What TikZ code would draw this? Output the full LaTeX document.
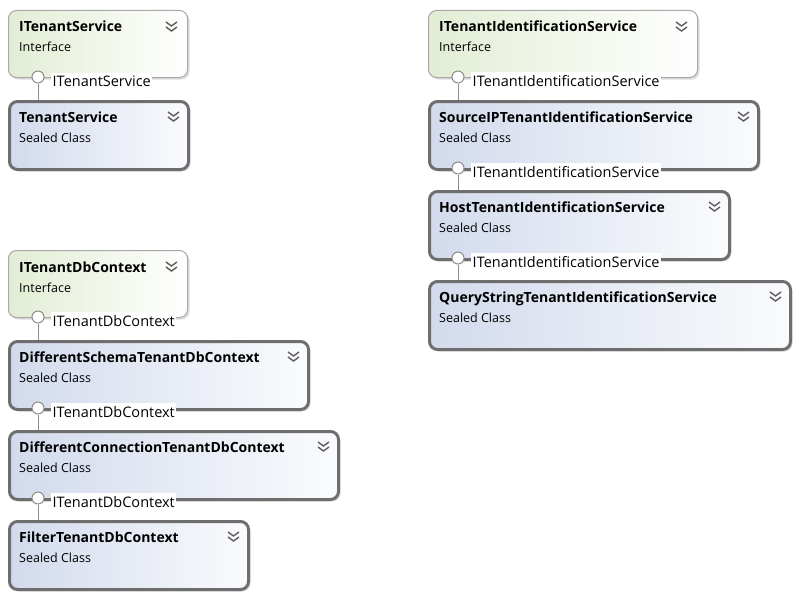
\documentclass[tikz,border=0pt]{standalone}
\usepackage{fontspec}
\setmainfont{Open Sans}
\usetikzlibrary{shadows}
\definecolor{ifborder}{HTML}{A8A8A8}
\definecolor{ifleft}{HTML}{E2EDD4}
\definecolor{clsborder}{HTML}{6E6E6E}
\definecolor{clsleft}{HTML}{D2DAEC}
\definecolor{clsright}{HTML}{FAFBFD}
\definecolor{lolgray}{HTML}{8C8C8C}
\definecolor{chevgray}{HTML}{5E5E5E}
\tikzset{
  boxshadow/.style={drop shadow={shadow xshift=2pt, shadow yshift=-2pt, fill=black!30, opacity=0.45}},
  iface/.style={draw=ifborder, line width=1pt, rounded corners=8pt, left color=ifleft, right color=white, boxshadow, inner sep=0pt},
  cls/.style={draw=clsborder, line width=3pt, rounded corners=8pt, left color=clsleft, right color=clsright, boxshadow, inner sep=0pt},
  ttl/.style={anchor=base west, inner sep=0pt, font=\bfseries\fontsize{14}{16}\selectfont},
  sub/.style={anchor=base west, inner sep=0pt, font=\fontsize{12.5}{14}\selectfont},
  lol/.style={circle, draw=lolgray, fill=white, line width=1pt, minimum size=12pt, inner sep=0pt},
  lbl/.style={anchor=base west, fill=white, inner xsep=1.5pt, inner ysep=2.5pt, font=\fontsize{14.5}{16}\selectfont},
  conn/.style={draw=lolgray, line width=1pt},
  chev/.style={draw=chevgray, line width=1.4pt},
}
\newcommand\umlbox[8]{%
  \node[#1, anchor=north west, minimum width={(#5-#3)*1pt}, minimum height={(#6-#4)*1pt}] (#2) at (#3,#4) {};
  \node[ttl] (#2-t) at ([xshift=11pt,yshift=-22pt]#2.north west) {#7};
  \node[sub] (#2-s) at ([xshift=11pt,yshift=-42pt]#2.north west) {#8};
  \draw[chev] ([xshift=-22pt,yshift=-12pt]#2.north east) -- ++(5.5,4) -- ++(5.5,-4);
  \draw[chev] ([xshift=-22pt,yshift=-17pt]#2.north east) -- ++(5.5,4) -- ++(5.5,-4);
}
\begin{document}
\begin{tikzpicture}[x=1pt,y=-1pt]
\useasboundingbox (0,0) rectangle (799,602);
% left top
\umlbox{iface}{isvc}{8}{10}{187}{77}{ITenantService}{Interface}
\umlbox{cls}{tsvc}{8}{100}{187}{168}{TenantService}{Sealed Class}
% left bottom
\umlbox{iface}{idb}{8}{250}{187}{317}{ITenantDbContext}{Interface}
\umlbox{cls}{dsdb}{8}{340}{307}{408}{DifferentSchemaTenantDbContext}{Sealed Class}
\umlbox{cls}{dcdb}{8}{430}{337}{498}{DifferentConnectionTenantDbContext}{Sealed Class}
\umlbox{cls}{fdb}{8}{520}{247}{588}{FilterTenantDbContext}{Sealed Class}
% right
\umlbox{iface}{iid}{428}{10}{697}{77}{ITenantIdentificationService}{Interface}
\umlbox{cls}{sip}{428}{100}{757}{168}{SourceIPTenantIdentificationService}{Sealed Class}
\umlbox{cls}{hid}{428}{190}{728}{258}{HostTenantIdentificationService}{Sealed Class}
\umlbox{cls}{qid}{428}{280}{789}{348}{QueryStringTenantIdentificationService}{Sealed Class}
% lollipops
\node[lol] (l1) at (38,77) {};
\node[lol] (l2) at (38,317) {};
\node[lol] (l3) at (38,408) {};
\node[lol] (l4) at (38,498) {};
\node[lol] (l5) at (458,77) {};
\node[lol] (l6) at (458,168) {};
\node[lol] (l7) at (458,258) {};
\draw[conn] (l1.south) -- (l1.south |- tsvc.north);
\draw[conn] (l2.south) -- (l2.south |- dsdb.north);
\draw[conn] (l3.south) -- (l3.south |- dcdb.north);
\draw[conn] (l4.south) -- (l4.south |- fdb.north);
\draw[conn] (l5.south) -- (l5.south |- sip.north);
\draw[conn] (l6.south) -- (l6.south |- hid.north);
\draw[conn] (l7.south) -- (l7.south |- qid.north);
\node[lbl] (l1-t) at (51,86) {ITenantService};
\node[lbl] (l2-t) at (51,326) {ITenantDbContext};
\node[lbl] (l3-t) at (51,417) {ITenantDbContext};
\node[lbl] (l4-t) at (51,507) {ITenantDbContext};
\node[lbl] (l5-t) at (471,86) {ITenantIdentificationService};
\node[lbl] (l6-t) at (471,177) {ITenantIdentificationService};
\node[lbl] (l7-t) at (471,267) {ITenantIdentificationService};
\end{tikzpicture}
\end{document}
